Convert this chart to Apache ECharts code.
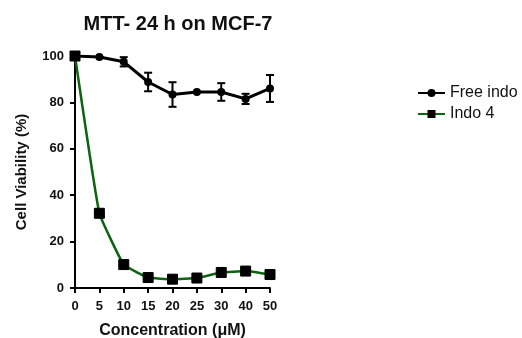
<!DOCTYPE html>
<html><head><meta charset="utf-8">
<script src="https://cdn.jsdelivr.net/npm/echarts@6/dist/echarts.min.js"></script>
<style>html,body{margin:0;padding:0;background:#fff}#c{width:522px;height:338px}</style>
</head><body><div id="c"></div>
<script>
const categories = ['0','5','10','15','20','25','30','40','50'];
const freeIndo = [100, 99.6, 97.5, 88.8, 83.4, 84.5, 84.5, 81.5, 86];
const freeIndoErr = [0, 0, 2, 4, 5.3, 0, 3.8, 2.2, 5.8];
const indo4 = [100, 32.2, 10.1, 4.5, 3.8, 4.3, 6.7, 7.3, 5.8];
const indo4Err = [0, 1.5, 1.5, 0.5, 0.5, 0.5, 0.8, 0.8, 0.5];
const yTicks = [0, 20, 40, 60, 80, 100];

const FONT = 'Liberation Sans, Arial, sans-serif';
const GREEN = '#0b6410';

function errSeries(vals, errs, color) {
  return {
    type: 'custom', silent: true, z: 1,
    data: vals.map((v, i) => [i, v - errs[i], v + errs[i]]),
    renderItem: function (params, api) {
      const x = api.value(0);
      const lo = api.coord([x, api.value(1)]);
      const hi = api.coord([x, api.value(2)]);
      const w = 4;
      const st = { stroke: color, lineWidth: 2 };
      return { type: 'group', children: [
        { type: 'line', shape: { x1: lo[0], y1: lo[1], x2: hi[0], y2: hi[1] }, style: st },
        { type: 'line', shape: { x1: lo[0]-w, y1: lo[1], x2: lo[0]+w, y2: lo[1] }, style: st },
        { type: 'line', shape: { x1: hi[0]-w, y1: hi[1], x2: hi[0]+w, y2: hi[1] }, style: st }
      ]};
    }
  };
}

const chart = echarts.init(document.getElementById('c'));
chart.setOption({
  animation: false,
  title: { text: 'MTT- 24 h on MCF-7', left: 173, top: 9, textAlign: 'center',
    textStyle: { fontFamily: FONT, fontSize: 20, fontWeight: 'bold', color: '#111' } },
  grid: { left: 75, right: 252, top: 56, bottom: 50, outerBoundsMode: 'none', containLabel: false },
  legend: {
    orient: 'vertical', left: 412, top: 80, itemGap: 5, itemWidth: 27, itemHeight: 10,
    textStyle: { fontFamily: FONT, fontSize: 16, color: '#111' },
    data: ['Free indo', 'Indo 4']
  },
  xAxis: {
    type: 'category', data: categories, boundaryGap: false,
    name: 'Concentration (μM)', nameLocation: 'middle', nameGap: 35,
    nameTextStyle: { fontFamily: FONT, fontSize: 16, fontWeight: 'bold', color: '#111' },
    axisLine: { lineStyle: { color: '#000', width: 2 } },
    axisTick: { alignWithLabel: true, length: 5, lineStyle: { width: 2, color: '#000' } },
    axisLabel: { fontFamily: FONT, fontSize: 13, fontWeight: 'bold', color: '#111', margin: 12, interval: 0 },
    splitLine: { show: false }
  },
  yAxis: {
    type: 'value', min: 0, max: 100, interval: 20,
    name: 'Cell Viability (%)', nameLocation: 'middle', nameGap: 46, nameRotate: 90,
    nameTextStyle: { fontFamily: FONT, fontSize: 15, fontWeight: 'bold', color: '#111' },
    axisLine: { show: true, lineStyle: { color: '#000', width: 2 } },
    axisTick: { show: true, length: 5, lineStyle: { width: 2, color: '#000' } },
    axisLabel: { fontFamily: FONT, fontSize: 13, fontWeight: 'bold', color: '#111', margin: 11,
      formatter: v => yTicks.includes(v) ? String(v) : '' },
    splitLine: { show: false }
  },
  series: [
    errSeries(freeIndo, freeIndoErr, '#000'),
    errSeries(indo4, indo4Err, '#000'),
    { name: 'Indo 4', type: 'line', data: indo4, smooth: 0.1, z: 2,
      symbol: 'rect', symbolSize: 10,
      lineStyle: { color: GREEN, width: 2.5 },
      itemStyle: { color: '#000', borderColor: '#000' } },
    { name: 'Free indo', type: 'line', data: freeIndo, z: 3,
      symbol: 'circle', symbolSize: 8,
      lineStyle: { color: '#000', width: 3 },
      itemStyle: { color: '#000' } }
  ]
});
</script></body></html>
